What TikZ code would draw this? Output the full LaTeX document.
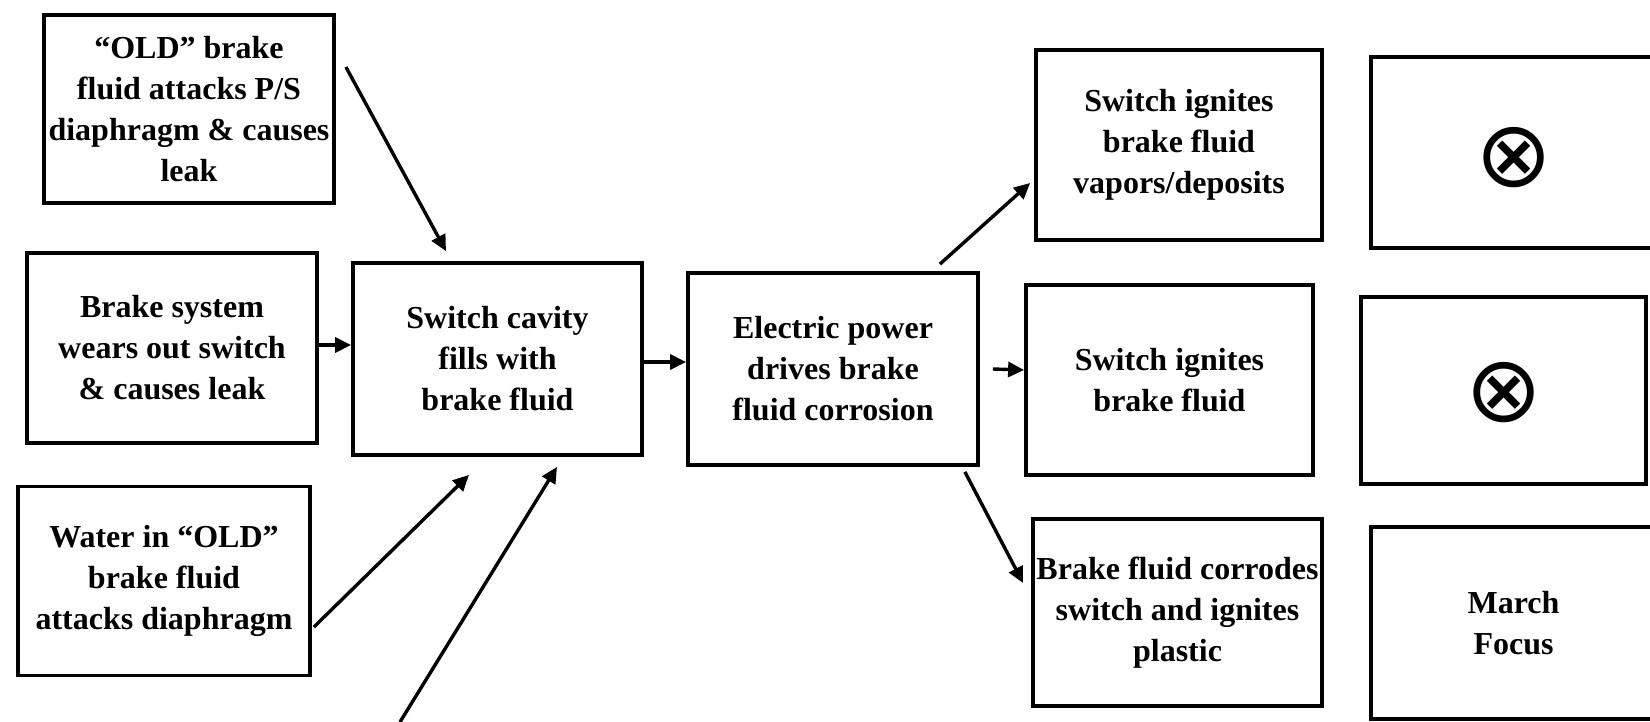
\documentclass[tikz,border=0pt]{standalone}
\usepackage{fontspec}
\setmainfont{Liberation Serif}
\newfontfamily\symfnt{DejaVu Sans}
\usetikzlibrary{arrows.meta,calc}
\tikzset{
  box/.style={draw, line width=1.9pt, align=center, inner sep=0pt,
    font=\fontsize{16}{20.5}\selectfont\bfseries},
  arr/.style={line width=1.7pt, -{Triangle[length=8pt,width=7.5pt]}},
  sym/.style={font=\symfnt\fontsize{46}{46}\selectfont}
}
\begin{document}
\begin{tikzpicture}[x=0.5pt,y=-0.5pt]
\clip (0,0) rectangle (1650,722);
\fill[white] (0,0) rectangle (1650,722);
% left column
\node[box, minimum width=145pt, minimum height=94pt] (A) at (189,109)
  {“OLD” brake\\fluid attacks P/S\\diaphragm \& causes\\leak};
\node[box, minimum width=145pt, minimum height=95pt] (B) at (172,348)
  {Brake system\\wears out switch\\\& causes leak};
\node[box, minimum width=146pt, minimum height=94.5pt] (C) at (164,581)
  {Water in “OLD”\\brake fluid\\attacks diaphragm};
% middle
\node[box, minimum width=144.5pt, minimum height=96pt] (D) at (497.5,359)
  {Switch cavity\\fills with\\brake fluid};
\node[box, minimum width=145pt, minimum height=96pt] (E) at (833,369)
  {Electric power\\drives brake\\fluid corrosion};
% outcomes
\node[box, minimum width=143pt, minimum height=95pt] (F) at (1179,145)
  {Switch ignites\\brake fluid\\vapors/deposits};
\node[box, minimum width=143.5pt, minimum height=95pt] (G) at (1169.5,380)
  {Switch ignites\\brake fluid};
\node[box, minimum width=144.5pt, minimum height=93.5pt] (H) at (1177.5,612.5)
  {Brake fluid corrodes\\switch and ignites\\plastic};
% right column
\node[box, minimum width=142.5pt, minimum height=95.5pt] (I) at (1513.5,152.5) {};
\node[sym] (Isym) at (1514,158) {⊗};
\node[box, minimum width=142.5pt, minimum height=93.5pt] (J) at (1503.5,390.5) {};
\node[sym] (Jsym) at (1504,393) {⊗};
\node[box, minimum width=142.5pt, minimum height=96pt] (K) at (1513.5,623)
  {March\\Focus};
% connectors
\coordinate (bot) at (400,722);
\draw[arr] ($(A.east)+(10,-42)$) -- ($(D.north)+(-51.5,-10)$);
\draw[arr] ($(B.east)+(0,-3)$) -- ($(D.west)+(0,-14)$);
\draw[arr] ($(C.east)+(2,46)$) -- ($(D.south)+(-28.5,18)$);
\draw[arr] (bot) -- ($(D.south)+(59.5,10)$);
\draw[arr] ($(D.east)+(0,3)$) -- ($(E.west)+(0,-7)$);
\draw[arr] ($(E.north east)+(-40,-7)$) -- ($(F.west)+(-4,38)$);
\draw[arr] ($(E.east)+(13,0)$) -- ($(G.west)+(0,-10)$);
\draw[arr] ($(E.south east)+(-15,5)$) -- ($(H.west)+(-8,-29.5)$);
\end{tikzpicture}
\end{document}
